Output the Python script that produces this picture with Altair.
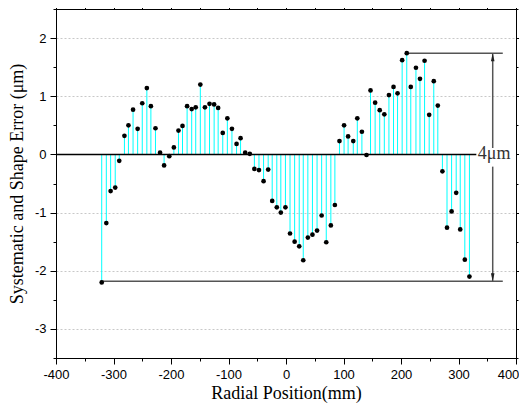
import altair as alt
import pandas as pd

# ---- data ----
pos_mm = [-320.5, -312.5, -305, -297, -290, -281, -274, -266, -258, -250, -242,
          -235, -227, -219, -212, -203, -195, -187, -180, -172, -164,
          -157, -149, -141, -133, -125, -118, -110, -102, -94, -86, -79,
          -71, -63, -55, -47, -39, -31, -24, -16, -9, -1,
          7, 15, 23, 30, 38, 46, 54, 62, 70, 78, 85,
          93, 101, 108, 117, 124, 132, 140, 147, 155, 163, 171,
          179, 187, 194, 202, 210, 217, 226, 233, 241, 249, 257, 264,
          272, 280, 288, 296, 303, 311, 319]
err_um = [-2.20, -1.18, -0.63, -0.57, -0.11, 0.32, 0.50, 0.77, 0.44, 0.88, 1.14,
          0.83, 0.45, 0.03, -0.19, -0.03, 0.12, 0.41, 0.49, 0.83, 0.78,
          0.81, 1.20, 0.81, 0.87, 0.86, 0.80, 0.37, 0.62, 0.44, 0.18, 0.28,
          0.03, 0.01, -0.25, -0.27, -0.46, -0.26, -0.80, -0.91, -1.00, -0.91,
          -1.36, -1.50, -1.58, -1.82, -1.43, -1.38, -1.31, -1.05, -1.51, -1.22, -0.87,
          0.23, 0.50, 0.31, 0.23, 0.62, 0.39, -0.01, 1.10, 0.89, 0.76, 0.69,
          1.02, 1.16, 1.05, 1.62, 1.74, 1.16, 1.49, 1.30, 1.61, 0.68, 1.26, 0.84,
          -0.29, -1.26, -0.98, -0.66, -1.29, -1.81, -2.10]

x_ticks = list(range(-400, 401, 50))
y_ticks = [v / 2 for v in range(-7, 6)]

# annotation (peak-to-valley marker)
band_y = [1.74, -2.18]
band_x1 = [210, -320]
band_x2 = [377, 377]
arrow_x = 359.5
arrow_seg_y1 = [1.74, -0.21]
arrow_seg_y2 = [0.11, -2.18]
label_text = "4μm"
label_x = 362
zero_line_x = [-400, 331]

df = pd.DataFrame({"x": pos_mm, "y": err_um, "zero": [0.0] * len(pos_mm)})
band_df = pd.DataFrame({"y": band_y, "x1": band_x1, "x2": band_x2})
arrow_df = pd.DataFrame({"x": [arrow_x] * 2, "y1": arrow_seg_y1, "y2": arrow_seg_y2})
head_up = pd.DataFrame({"x": [arrow_x], "y": [band_y[0]]})
head_dn = pd.DataFrame({"x": [arrow_x], "y": [band_y[1]]})
label_df = pd.DataFrame({"x": [label_x], "y": [0.0], "t": [label_text]})
zero_df = pd.DataFrame({"x1": [zero_line_x[0]], "x2": [zero_line_x[1]], "y": [0.0]})

xs = alt.Scale(domain=[-400, 400], nice=False, zero=False)
ys = alt.Scale(domain=[-3.5, 2.5], nice=False, zero=False)

LF = "Liberation Sans"
TF = "Liberation Serif"

x_major = "datum.value % 100 === 0"
y_major = "datum.value % 1 === 0"

x_bottom = alt.Axis(values=x_ticks, orient="bottom", title="Radial Position(mm)",
                    labelExpr=f"{x_major} ? '' + datum.value : ''",
                    tickSize={"condition": {"test": x_major, "value": 6}, "value": 3},
                    labelOffset={"condition": {"test": "datum.value === 400", "value": -8}, "value": 0},
                    labelPadding=4, labelOverlap=False, labelFlush=False, grid=False,
                    labelFont=LF, labelFontSize=13, labelColor="black",
                    titleFont=TF, titleFontSize=18, titleFontWeight="normal",
                    titleColor="black", titlePadding=3,
                    domainColor="black", tickColor="black", domainWidth=1)
y_left = alt.Axis(values=y_ticks, orient="left", title="Systematic and Shape Error (μm)",
                  labelExpr=f"{y_major} ? '' + datum.value : ''",
                  tickSize={"condition": {"test": y_major, "value": 6}, "value": 3},
                  labelPadding=4, labelOverlap=False, labelFlush=False,
                  grid=True, gridColor="#c8c8c8", gridDash=[2, 2], gridWidth=1,
                  gridOpacity={"condition": {"test": f"{y_major} && datum.value !== 0", "value": 1}, "value": 0},
                  labelFont=LF, labelFontSize=13, labelColor="black",
                  titleFont=TF, titleFontSize=18, titleFontWeight="normal",
                  titleColor="black", titlePadding=8,
                  domainColor="black", tickColor="black", domainWidth=1)
x_top = alt.Axis(values=x_ticks, orient="top", title=None, labels=False, grid=False,
                 tickSize={"condition": {"test": x_major, "value": 5}, "value": 3},
                 domainColor="black", tickColor="black")
y_right = alt.Axis(values=y_ticks, orient="right", title=None, labels=False, grid=False,
                   tickSize={"condition": {"test": y_major, "value": 3}, "value": 2},
                   domainColor="black", tickColor="black")

stems = alt.Chart(df).mark_rule(color="#00FFFF", strokeWidth=1).encode(
    x=alt.X("x:Q", scale=xs, axis=x_bottom),
    y=alt.Y("y:Q", scale=ys, axis=y_left),
    y2="zero:Q",
)

zero = alt.Chart(zero_df).mark_rule(color="black", strokeWidth=1.5).encode(
    x=alt.X("x1:Q", scale=xs, axis=None), x2="x2:Q",
    y=alt.Y("y:Q", scale=ys, axis=None),
)

bands = alt.Chart(band_df).mark_rule(color="#555555", strokeWidth=1.5).encode(
    x=alt.X("x1:Q", scale=xs, axis=None), x2="x2:Q",
    y=alt.Y("y:Q", scale=ys, axis=None),
)

arrow = alt.Chart(arrow_df).mark_rule(color="#555555", strokeWidth=1.5).encode(
    x=alt.X("x:Q", scale=xs, axis=None),
    y=alt.Y("y1:Q", scale=ys, axis=None), y2="y2:Q",
)

up = alt.Chart(head_up).mark_point(shape="M0,0L-0.45,2L0.45,2Z", filled=True, size=64,
                                    color="#222222", opacity=1).encode(
    x=alt.X("x:Q", scale=xs, axis=None), y=alt.Y("y:Q", scale=ys, axis=None))
dn = alt.Chart(head_dn).mark_point(shape="M0,0L-0.45,-2L0.45,-2Z", filled=True, size=64,
                                    color="#222222", opacity=1).encode(
    x=alt.X("x:Q", scale=xs, axis=None), y=alt.Y("y:Q", scale=ys, axis=None))

dots = alt.Chart(df).mark_circle(color="black", size=22, opacity=1).encode(
    x=alt.X("x:Q", scale=xs, axis=x_top),
    y=alt.Y("y:Q", scale=ys, axis=y_right),
)

label = alt.Chart(label_df).mark_text(font=TF, fontSize=18, color="#333333",
                                      align="center", baseline="middle").encode(
    x=alt.X("x:Q", scale=xs, axis=None), y=alt.Y("y:Q", scale=ys, axis=None),
    text="t:N")

chart = alt.layer(stems, zero, bands, arrow, up, dn, dots, label).resolve_axis(
    x="independent", y="independent"
).properties(
    width=460, height=349,
    padding={"left": 48, "top": 1, "right": 3, "bottom": 47},
    autosize=alt.AutoSizeParams(type="none"),
).configure_view(stroke="black", strokeWidth=1)

chart.save("out.html", embed_options={"renderer": "svg", "actions": False})
